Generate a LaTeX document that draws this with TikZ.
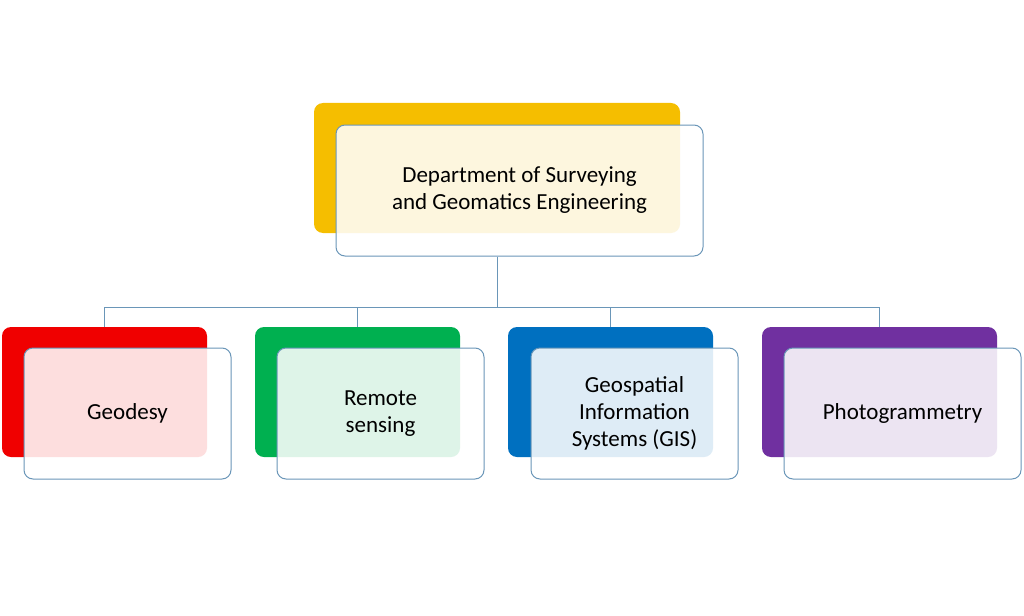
\documentclass[tikz,border=0pt]{standalone}
\usepackage{fontspec}
\setmainfont{Carlito}
\usetikzlibrary{positioning}
\definecolor{gold}{HTML}{F5BE00}
\definecolor{geored}{HTML}{F00000}
\definecolor{geogreen}{HTML}{00B050}
\definecolor{geoblue}{HTML}{0070C0}
\definecolor{geopurple}{HTML}{7030A0}
\definecolor{edge}{HTML}{6A96B8}
\tikzset{
  backbox/.style={rectangle, rounded corners=9pt, inner sep=0pt, minimum height=130pt},
  frontbox/.style={rectangle, rounded corners=9pt, draw=edge, line width=1pt, fill=white, fill opacity=0.87, text opacity=1, inner sep=0pt, minimum height=131pt, align=center, font=\fontsize{23}{27}\selectfont},
  link/.style={draw=edge, line width=1pt}
}
\begin{document}
\begin{tikzpicture}[x=1pt,y=-1pt]
            \useasboundingbox (0,0) rectangle (1024,615);
            % top of the tree
            \node[backbox, fill=gold, minimum width=366pt] (topb) at (497,168) {};
            \node[frontbox, minimum width=367pt] (top) at (519.5,190.5) {Department of Surveying\\and Geomatics Engineering};

            % branches
            \node[backbox, fill=geored, minimum width=205pt] (gb) at (104.5,392) {};
            \node[frontbox, minimum width=207pt] (g) at (127.5,413.5) {Geodesy};
            \node[backbox, fill=geogreen, minimum width=205pt] (rb) at (357.5,392) {};
            \node[frontbox, minimum width=207pt] (r) at (380.5,413.5) {Remote\\sensing};
            \node[backbox, fill=geoblue, minimum width=205pt] (sb) at (610.5,392) {};
            \node[frontbox, minimum width=207pt] (s) at (634.5,413.5) {Geospatial\\Information\\Systems (GIS)};
            \node[backbox, fill=geopurple, minimum width=235pt] (pb) at (879.5,392) {};
            \node[frontbox, minimum width=237pt] (p) at (902.5,413.5) {Photogrammetry};

            % connectors
            \coordinate (bus) at (497,307);
            \path[link] (top.south -| bus) -- (bus);
            \path[link] (bus) -| (gb.north);
            \path[link] (bus) -| (rb.north);
            \path[link] (bus) -| (sb.north);
            \path[link] (bus) -| (pb.north);
        \end{tikzpicture}
\end{document}
